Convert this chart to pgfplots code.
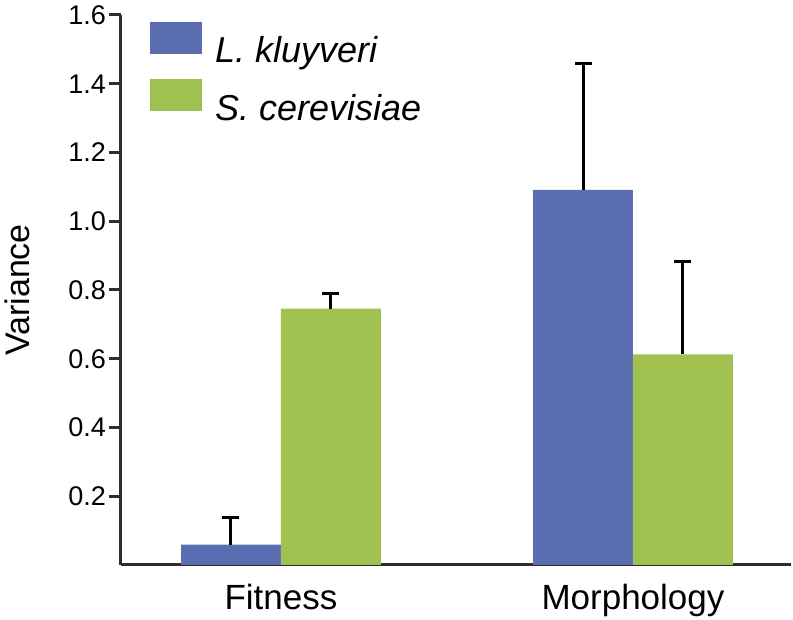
\documentclass[border=0pt]{standalone}
\usepackage{fontspec}
\setmainfont{Liberation Sans}
\usepackage{pgfplots}
\pgfplotsset{compat=1.18}

\definecolor{kblue}{RGB}{88,110,176}
\definecolor{sgreen}{RGB}{160,193,80}
\definecolor{axgray}{RGB}{45,45,45}

\begin{document}
\begin{tikzpicture}
\begin{axis}[
    at={(0pt,0pt)}, anchor=south west,
    scale only axis,
    width=670pt, height=550pt,
    xmin=-0.4545, xmax=1.4489,
    ymin=0, ymax=1.6,
    axis x line*=bottom, axis y line*=left,
    axis line style={-, line width=3pt, axgray},
    ybar, bar width=0.284,
    xtick={0,1}, xticklabels={Fitness, Morphology},
    major x tick style={draw=none},
    ytick={0.2,0.4,0.6,0.8,1.0,1.2,1.4,1.6},
    yticklabel style={/pgf/number format/fixed, /pgf/number format/fixed zerofill,
        /pgf/number format/precision=1, font=\fontsize{27}{30}\selectfont, inner sep=0pt, xshift=-3pt},
    /pgf/number format/assume math mode=true,
    xticklabel style={font=\fontsize{35}{40}\selectfont, anchor=north, inner sep=0pt, yshift=-7pt},
    tick align=outside,
    major tick length=12pt,
    every tick/.style={line width=3pt, axgray},
    major y tick style={line width=3pt, axgray},
    ylabel={Variance},
    ylabel style={font=\fontsize{34}{38}\selectfont, at={(axis description cs:-0.155,0.5)}, anchor=center, rotate=0},
    legend cell align=left,
    legend style={at={(axis description cs:0,1)}, anchor=north west, xshift=29pt, yshift=-7pt,
        draw=none, fill=none, inner sep=0pt,
        font=\fontsize{36}{40}\selectfont\itshape,
        row sep=15pt, column sep=13pt,
        nodes={inner sep=0pt}},
    legend image code/.code={\fill[#1] (0pt,-3.5pt) rectangle (52pt,28.5pt);},
    error bars/y dir=plus, error bars/y explicit,
    error bars/error bar style={line width=3pt, black},
    error bars/error mark options={rotate=90, line width=3pt, mark size=8.5pt, black},
]
\addplot[fill=kblue, draw=none, bar shift=-0.142]
    coordinates {(0,0.059) +- (0,0.078) (1,1.091) +- (0,0.368)};
\addlegendentry{L. kluyveri}
\addplot[fill=sgreen, draw=none, bar shift=0.142]
    coordinates {(0,0.746) +- (0,0.044) (1,0.613) +- (0,0.269)};
\addlegendentry{S. cerevisiae}
\end{axis}
\pgfresetboundingbox
\path (-121pt,-55pt) rectangle (672pt,565pt);
\end{tikzpicture}
\end{document}
